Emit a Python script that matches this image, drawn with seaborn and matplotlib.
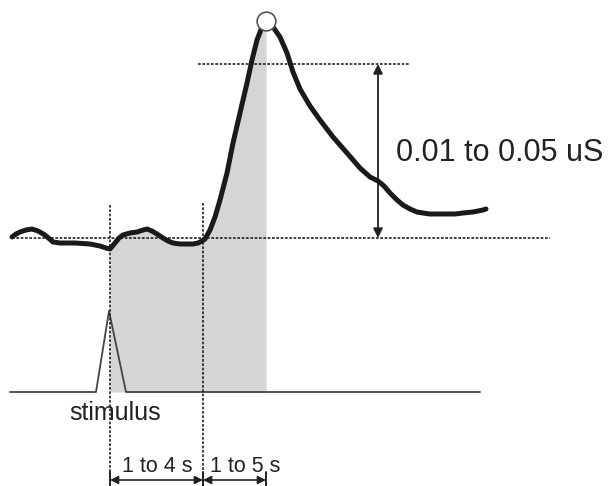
import numpy as np
import pandas as pd
import matplotlib
matplotlib.use("Agg")
import matplotlib.pyplot as plt
import seaborn as sns

# Skin conductance response curve (image coordinates, y grows downward)
curve_x = [12, 16, 20, 26, 32, 38, 45, 53, 60, 75, 90, 100, 106, 110, 115, 119, 123, 130,
           137, 143, 147, 152, 157, 163, 168, 173, 180, 187, 193, 198, 202, 205, 210, 215,
           220, 227, 233, 240, 247, 252, 257, 262, 266,
           270, 273, 280, 287, 293, 300, 310, 320, 333, 347, 360, 370, 378, 384, 390, 397,
           403, 410, 417, 423, 430, 438, 447, 455, 463, 473, 483, 486]
curve_y = [237, 234, 232, 230, 229, 231, 235, 242, 243, 243, 244, 246, 248, 249, 243, 238, 235, 233,
           232, 230, 229, 231, 234, 238, 241, 243, 244, 244, 244, 243, 241, 239, 230, 217,
           200, 173, 143, 113, 83, 60, 40, 27, 21,
           22, 27, 37, 53, 72, 89, 106, 120, 137, 153, 168, 177, 181, 186, 193, 200,
           205, 209, 212, 213, 214, 214, 214, 214, 213, 212, 210, 209]

# Stimulus trace
stim_x = [10, 96, 109, 126, 480]
stim_y = [392, 392, 311, 392, 392]

# Key levels / times
baseline_y = 238
peak_level_y = 64
stim_time_x = 110
onset_x = 203
peak_x = 266
peak_y = 21

amp_label = "0.01 to 0.05 uS"
latency_label = "1 to 4 s"
rise_label = "1 to 5 s"
stim_label = "stimulus"

sns.set_theme(style="white")
plt.rcParams['font.family'] = ['Liberation Sans', 'DejaVu Sans']

fig = plt.figure(figsize=(6.13, 4.86), dpi=100)
ax = fig.add_axes([0, 0, 1, 1])
ax.set_xlim(0, 613)
ax.set_ylim(486, 0)
ax.axis("off")

cx = np.array(curve_x)
cy = np.array(curve_y)
mask = (cx >= stim_time_x) & (cx <= peak_x)
ax.fill_between(cx[mask], cy[mask], stim_y[0], color="#d4d5d7", lw=0, zorder=1)

df_curve = pd.DataFrame({"x": curve_x, "y": curve_y})
df_stim = pd.DataFrame({"x": stim_x, "y": stim_y})
sns.lineplot(data=df_stim, x="x", y="y", ax=ax, color="#444444", lw=1.3, sort=False, zorder=2)

dot = (0, (1.6, 1.0))
ax.plot([12, 550], [baseline_y, baseline_y], color="#222222", lw=1.2, ls=dot, zorder=2)
ax.plot([198, 410], [peak_level_y, peak_level_y], color="#222222", lw=1.2, ls=dot, zorder=2)
ax.plot([stim_time_x, stim_time_x], [205, 484], color="#222222", lw=1.2, ls=dot, zorder=2)
ax.plot([onset_x, onset_x], [203, 486], color="#222222", lw=1.2, ls=dot, zorder=2)

sns.lineplot(data=df_curve, x="x", y="y", ax=ax, color="#1a1a1a", lw=3.6, sort=False,
             zorder=4, solid_joinstyle="round", solid_capstyle="round")
ax.plot([peak_x], [peak_y], marker="o", ms=13.5, mfc="white", mec="#555555", mew=1.2, zorder=5)

# amplitude arrow
ax.annotate("", xy=(378, peak_level_y), xytext=(378, baseline_y),
            arrowprops=dict(arrowstyle="<|-|>", color="#222222", lw=1.3,
                            mutation_scale=14, shrinkA=0, shrinkB=0), zorder=3)
ax.text(396, 153, amp_label, fontsize=22, ha="left", va="center", color="#222222")

# time arrows
ty = 480
for a, b in [(stim_time_x, onset_x), (onset_x, peak_x)]:
    ax.annotate("", xy=(a, ty), xytext=(b, ty),
                arrowprops=dict(arrowstyle="<|-|>", color="#222222", lw=1.2,
                                mutation_scale=12, shrinkA=0, shrinkB=0))
for bx in [stim_time_x, onset_x, peak_x]:
    ax.plot([bx, bx], [472, 488], color="#222222", lw=1.4)
ax.text(157, 466, latency_label, fontsize=15.5, ha="center", va="center", color="#222222")
ax.text(245, 466, rise_label, fontsize=15.5, ha="center", va="center", color="#222222")
ax.text(115, 413, stim_label, fontsize=18, ha="center", va="center", color="#222222")

fig.savefig("out.png", dpi=100)
